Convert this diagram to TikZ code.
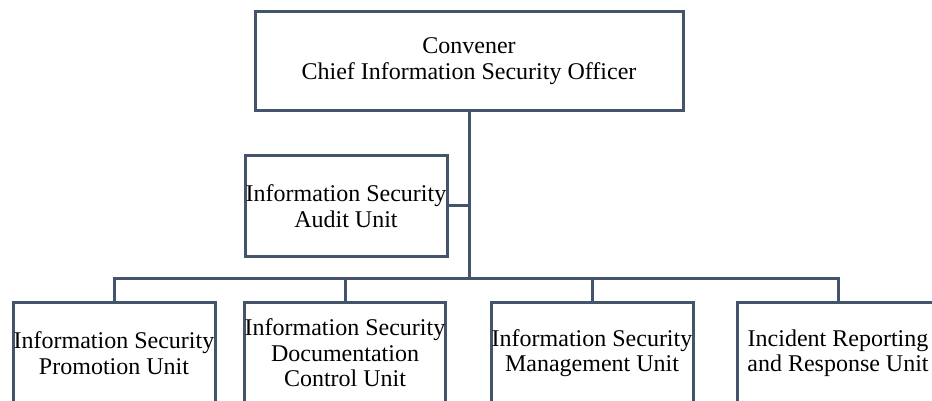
\documentclass[tikz,border=0pt]{standalone}
\usepackage{fontspec}
\setmainfont{Liberation Serif}
\definecolor{slate}{HTML}{44546A}
\begin{document}
\begin{tikzpicture}[x=1pt, y=1pt, every node/.style={font=\fontsize{24}{25.5}\selectfont},
  unit/.style={draw=slate,line width=3pt,minimum width=202pt,minimum height=101pt,inner sep=0pt,align=center},
  link/.style={draw=slate,line width=3pt}]
\useasboundingbox (0,0) rectangle (932,401);
\clip (0,0) rectangle (932,401);
\node[unit,minimum width=428pt,minimum height=99pt] (cis) at (469,340) {Convener\\Chief Information Security Officer};
\node[unit] (audit) at (346,195) {Information Security\\Audit Unit};
\node[unit] (promo) at (114,48) {Information Security\\Promotion Unit};
\node[unit,minimum width=200pt] (doc) at (345,48) {Information Security\\Documentation\\Control Unit};
\node[unit] (mgmt) at (592,48) {Information Security\\Management Unit};
\node[unit] (irr) at (838,48) {Incident Reporting\\and Response Unit};
\coordinate (bus) at (469,122);
\draw[link] (cis.south) -- (bus);
\draw[link] (audit.east) -- (audit.east -| cis.south);
\draw[link] (promo.north) -- (promo.north |- bus) -- (irr.north |- bus) -- (irr.north);
\draw[link] (doc.north |- bus) -- (doc.north);
\draw[link] (mgmt.north |- bus) -- (mgmt.north);
\end{tikzpicture}
\end{document}
